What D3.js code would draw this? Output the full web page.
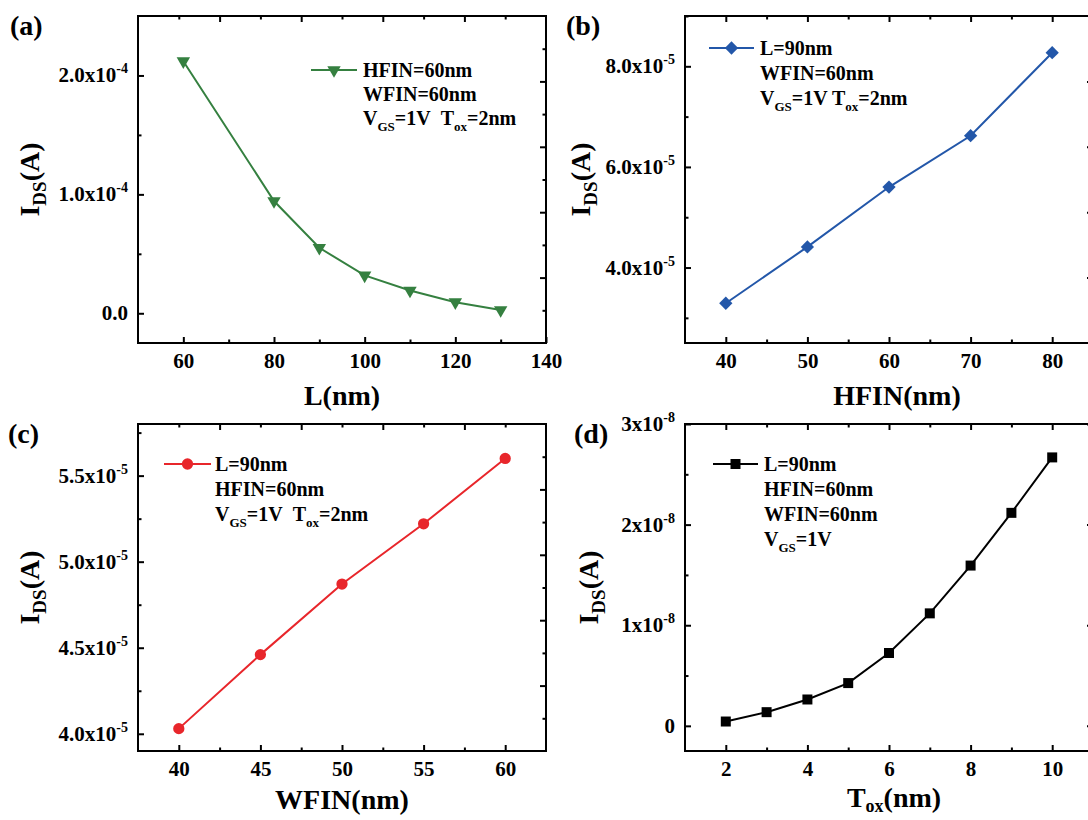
<!DOCTYPE html>
<html><head><meta charset="utf-8">
<script src="https://cdn.jsdelivr.net/npm/d3@7"></script>
<style>
body{margin:0;background:#fff}
svg text{font-family:"Liberation Serif","Times New Roman",serif;font-weight:bold;fill:#000}
</style>
</head><body>
<svg id="chart" width="1088" height="820"></svg>
<script>
// ---------- data ----------
// (a) I_DS vs channel length L
const aL   = [60, 80, 90, 100, 110, 120, 130];
const aIds = [2.12e-4, 0.944e-4, 0.551e-4, 0.318e-4, 0.191e-4, 0.093e-4, 0.027e-4];
// (b) I_DS vs HFIN
const bHfin = [40, 50, 60, 70, 80];
const bIds  = [3.29e-5, 4.41e-5, 5.60e-5, 6.62e-5, 8.27e-5];
// (c) I_DS vs WFIN
const cWfin = [40, 45, 50, 55, 60];
const cIds  = [4.03e-5, 4.46e-5, 4.87e-5, 5.22e-5, 5.60e-5];
// (d) I_DS vs Tox
const dTox = [2, 3, 4, 5, 6, 7, 8, 9, 10];
const dIds = [0.043e-8, 0.136e-8, 0.262e-8, 0.425e-8, 0.724e-8, 1.118e-8, 1.593e-8, 2.117e-8, 2.668e-8];

// ticks
const aXTicks = [60, 80, 100, 120, 140];
const aXMinor = [70, 90, 110, 130];
const aYTicks = [0, 1e-4, 2e-4];
const aYLabels = ["0.0", "1.0x10^{-4}", "2.0x10^{-4}"];
const aYMinor = [0.5e-4, 1.5e-4];

const bXTicks = [40, 50, 60, 70, 80];
const bXMinor = [45, 55, 65, 75];
const bYTicks = [4e-5, 6e-5, 8e-5];
const bYLabels = ["4.0x10^{-5}", "6.0x10^{-5}", "8.0x10^{-5}"];
const bYMinor = [3e-5, 5e-5, 7e-5, 9e-5];

const cXTicks = [40, 45, 50, 55, 60];
const cXMinor = [42.5, 47.5, 52.5, 57.5];
const cYTicks = [4.0e-5, 4.5e-5, 5.0e-5, 5.5e-5];
const cYLabels = ["4.0x10^{-5}", "4.5x10^{-5}", "5.0x10^{-5}", "5.5x10^{-5}"];
const cYMinor = [4.25e-5, 4.75e-5, 5.25e-5, 5.75e-5];

const dXTicks = [2, 4, 6, 8, 10];
const dXMinor = [3, 5, 7, 9];
const dYTicks = [0, 1e-8, 2e-8, 3e-8];
const dYLabels = ["0", "1x10^{-8}", "2x10^{-8}", "3x10^{-8}"];
const dYMinor = [0.5e-8, 1.5e-8, 2.5e-8];

// legend texts
const aLegend = ["HFIN=60nm", "WFIN=60nm", "V_{GS}=1V\u00a0\u00a0T_{ox}=2nm"];
const bLegend = ["L=90nm", "WFIN=60nm", "V_{GS}=1V T_{ox}=2nm"];
const cLegend = ["L=90nm", "HFIN=60nm", "V_{GS}=1V\u00a0\u00a0T_{ox}=2nm"];
const dLegend = ["L=90nm", "HFIN=60nm", "WFIN=60nm", "V_{GS}=1V"];

// ---------- layout / style ----------
const W = 408, H = 327, MAJ = 6, MIN = 3.5;
const panels = [
  {id:"(a)", left:138, top:16, xs:aL, ys:aIds, xDomain:[50,140], yDomain:[-0.25e-4, 2.5e-4],
   xTicks:aXTicks, xMinor:aXMinor, yTicks:aYTicks, yLabels:aYLabels, yMinor:aYMinor,
   xTitle:"L(nm)", color:"#358040", marker:"tri", legend:aLegend,
   topMirror:false, rightMirror:false,
   lab:[10,35], leg:{x1:311, x2:357, tx:363, y:70, dy:24}, yTitleX:30, xTitleDx:0, xTitleDy:62},
  {id:"(b)", left:685, top:16, xs:bHfin, ys:bIds, xDomain:[35,85], yDomain:[2.5e-5, 9.0e-5],
   xTicks:bXTicks, xMinor:bXMinor, yTicks:bYTicks, yLabels:bYLabels, yMinor:bYMinor,
   xTitle:"HFIN(nm)", color:"#2357a9", marker:"diamond", legend:bLegend,
   topMirror:true, rightMirror:false,
   lab:[566,35], leg:{x1:709, x2:754, tx:760, y:48, dy:25}, yTitleX:581, xTitleDx:8, xTitleDy:62},
  {id:"(c)", left:138, top:424, xs:cWfin, ys:cIds, xDomain:[37.5,62.5], yDomain:[3.9e-5, 5.8e-5],
   xTicks:cXTicks, xMinor:cXMinor, yTicks:cYTicks, yLabels:cYLabels, yMinor:cYMinor,
   xTitle:"WFIN(nm)", color:"#e8262b", marker:"circle", legend:cLegend,
   topMirror:false, rightMirror:false,
   lab:[8,443], leg:{x1:164, x2:211, tx:215, y:464, dy:25}, yTitleX:30, xTitleDx:0, xTitleDy:58},
  {id:"(d)", left:685, top:424, xs:dTox, ys:dIds, xDomain:[1,11], yDomain:[-0.25e-8, 3e-8],
   xTicks:dXTicks, xMinor:dXMinor, yTicks:dYTicks, yLabels:dYLabels, yMinor:dYMinor,
   xTitle:"T_{ox}(nm)", color:"#000000", marker:"square", legend:dLegend,
   topMirror:true, rightMirror:true,
   lab:[574,443], leg:{x1:713, x2:758, tx:764, y:464, dy:25}, yTitleX:589, xTitleDx:5, xTitleDy:56}
];

const svg = d3.select("#chart");

// rich text: _{sub} and ^{sup}
function rich(textSel, str, size, smallSize, subOff, supOff) {
  const parts = str.split(/(_\{[^}]*\}|\^\{[^}]*\})/).filter(s => s.length);
  let cur = 0;
  parts.forEach(p => {
    let t = p, off = 0, fs = size;
    if (p.startsWith("_{")) { t = p.slice(2, -1); off = subOff; fs = smallSize; }
    else if (p.startsWith("^{")) { t = p.slice(2, -1); off = supOff; fs = smallSize; }
    textSel.append("tspan").attr("dy", off - cur).attr("font-size", fs).text(t);
    cur = off;
  });
  return textSel;
}

function markerPath(type) {
  if (type === "tri") return d3.symbol().type(d3.symbolTriangle).size(78)();
  if (type === "diamond") return d3.symbol().type(d3.symbolSquare).size(88)();
  if (type === "circle") return d3.symbol().type(d3.symbolCircle).size(100)();
  return d3.symbol().type(d3.symbolSquare).size(100)();
}
function markerRot(type) {
  if (type === "tri") return " rotate(180)";
  if (type === "diamond") return " rotate(45)";
  return "";
}

function styleAxis(g) {
  g.select(".domain").remove();
  g.selectAll(".tick line").attr("stroke", "#000").attr("stroke-width", 2);
  g.attr("font-family", null).attr("font-size", null);
}

panels.forEach(p => {
  const g = svg.append("g").attr("transform", `translate(${p.left},${p.top})`);
  const x = d3.scaleLinear().domain(p.xDomain).range([0, W]);
  const y = d3.scaleLinear().domain(p.yDomain).range([H, 0]);
  const div = d3.scaleLinear().domain([0, 10]);

  // bottom
  g.append("g").attr("transform", `translate(0,${H})`)
    .call(d3.axisBottom(x).tickValues(p.xTicks).tickSize(-MAJ).tickPadding(10).tickFormat(d => d))
    .call(styleAxis)
    .selectAll("text").style("font-size", "21px");
  g.append("g").attr("transform", `translate(0,${H})`)
    .call(d3.axisBottom(x).tickValues(p.xMinor).tickSize(-MIN).tickFormat("")).call(styleAxis);
  // top
  if (p.topMirror) {
    g.append("g").call(d3.axisTop(x).tickValues(p.xTicks).tickSize(-MAJ).tickFormat("")).call(styleAxis);
    g.append("g").call(d3.axisTop(x).tickValues(p.xMinor).tickSize(-MIN).tickFormat("")).call(styleAxis);
  } else {
    const tx = div.copy().range([0, W]);
    g.append("g").call(d3.axisTop(tx).tickValues([2,4,6,8]).tickSize(-MAJ).tickFormat("")).call(styleAxis);
    g.append("g").call(d3.axisTop(tx).tickValues([1,3,5,7,9]).tickSize(-MIN).tickFormat("")).call(styleAxis);
  }
  // left
  g.append("g").call(d3.axisLeft(y).tickValues(p.yTicks).tickSize(-MAJ).tickFormat("")).call(styleAxis);
  g.append("g").call(d3.axisLeft(y).tickValues(p.yMinor).tickSize(-MIN).tickFormat("")).call(styleAxis);
  // right
  if (p.rightMirror) {
    g.append("g").attr("transform", `translate(${W},0)`)
      .call(d3.axisRight(y).tickValues(p.yTicks).tickSize(-MAJ).tickFormat("")).call(styleAxis);
    g.append("g").attr("transform", `translate(${W},0)`)
      .call(d3.axisRight(y).tickValues(p.yMinor).tickSize(-MIN).tickFormat("")).call(styleAxis);
  } else {
    const ry = div.copy().range([H, 0]);
    g.append("g").attr("transform", `translate(${W},0)`)
      .call(d3.axisRight(ry).tickValues([2,4,6,8]).tickSize(-MAJ).tickFormat("")).call(styleAxis);
    g.append("g").attr("transform", `translate(${W},0)`)
      .call(d3.axisRight(ry).tickValues([1,3,5,7,9]).tickSize(-MIN).tickFormat("")).call(styleAxis);
  }
  // y tick labels
  p.yTicks.forEach((v, i) => {
    const t = g.append("text").attr("x", -10).attr("y", y(v) + 7).attr("text-anchor", "end")
      .style("font-size", "21px");
    rich(t, p.yLabels[i], 21, 14, 0, -9);
  });

  // frame
  g.append("rect").attr("width", W).attr("height", H)
    .attr("fill", "none").attr("stroke", "#000").attr("stroke-width", 2);

  // data line
  const pts = p.xs.map((v, i) => [v, p.ys[i]]);
  g.append("path").datum(pts)
    .attr("fill", "none").attr("stroke", p.color).attr("stroke-width", 2)
    .attr("d", d3.line().x(d => x(d[0])).y(d => y(d[1])));
  g.selectAll(".mk").data(pts).join("path")
    .attr("d", markerPath(p.marker))
    .attr("transform", d => `translate(${x(d[0])},${y(d[1])})` + markerRot(p.marker))
    .attr("fill", p.color);

  // axis titles
  const xt = svg.append("text").attr("x", p.left + W / 2 + p.xTitleDx).attr("y", p.top + H + p.xTitleDy)
    .attr("text-anchor", "middle").style("font-size", "28px");
  rich(xt, p.xTitle, 28, 18, 5, 0);
  const yt = svg.append("text")
    .attr("transform", `translate(${p.yTitleX + 9},${p.top + H / 2}) rotate(-90)`)
    .attr("text-anchor", "middle").style("font-size", "28px");
  rich(yt, "I_{DS}(A)", 28, 19, 7, 0);

  // panel label
  svg.append("text").attr("x", p.lab[0]).attr("y", p.lab[1]).style("font-size", "28px").text(p.id);

  // legend
  const L = p.leg;
  svg.append("line").attr("x1", L.x1).attr("x2", L.x2).attr("y1", L.y).attr("y2", L.y)
    .attr("stroke", p.color).attr("stroke-width", 2);
  svg.append("path").attr("d", markerPath(p.marker))
    .attr("transform", `translate(${(L.x1 + L.x2) / 2},${L.y})` + markerRot(p.marker))
    .attr("fill", p.color);
  p.legend.forEach((s, i) => {
    const t = svg.append("text").attr("x", L.tx).attr("y", L.y + i * L.dy + 7).style("font-size", "20px");
    rich(t, s, 20, 13, 6, 0);
  });
});
</script>
</body></html>
